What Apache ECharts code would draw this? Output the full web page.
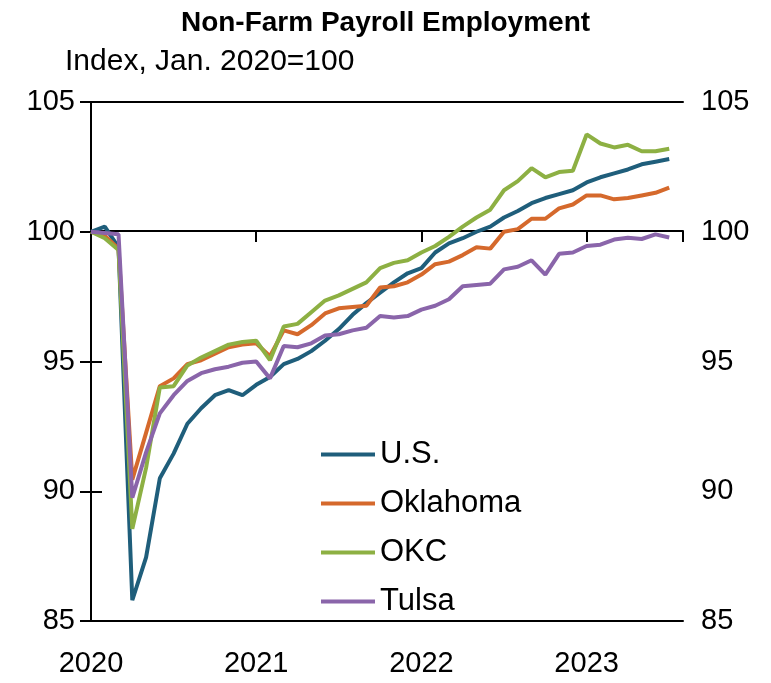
<!DOCTYPE html>
<html>
<head>
<meta charset="utf-8">
<title>Non-Farm Payroll Employment</title>
<script src="https://cdn.jsdelivr.net/npm/echarts@6/dist/echarts.min.js"></script>
<style>
  html, body { margin: 0; padding: 0; background: #fff; }
  #main { width: 771px; height: 683px; }
</style>
</head>
<body>
<div id="main"></div>
<script>
// monthly index, Jan 2020 = 100 (Jan 2020 .. Jul 2023)
var startYear = 2020;
var yearTicks = [2020, 2021, 2022, 2023];
var seriesNames = ['U.S.', 'Oklahoma', 'OKC', 'Tulsa'];

var us = [100, 100.2, 99.4, 85.8, 87.45, 90.5, 91.45, 92.6, 93.2, 93.7, 93.9, 93.7,
  94.1, 94.4, 94.9, 95.1, 95.4, 95.8, 96.25, 96.8, 97.25, 97.65, 98.05, 98.4,
  98.6, 99.2, 99.55, 99.75, 100.0, 100.2, 100.55, 100.8, 101.1, 101.3, 101.45, 101.6,
  101.9, 102.1, 102.25, 102.4, 102.6, 102.7, 102.8];
var oklahoma = [100, 99.85, 99.35, 90.45, 92.25, 94.05, 94.35, 94.9, 95.05, 95.3, 95.55, 95.65,
  95.7, 95.2, 96.2, 96.05, 96.4, 96.85, 97.05, 97.1, 97.15, 97.85, 97.9, 98.05,
  98.35, 98.75, 98.85, 99.1, 99.4, 99.35, 100.0, 100.1, 100.5, 100.5, 100.9, 101.05,
  101.4, 101.4, 101.25, 101.3, 101.4, 101.5, 101.7];
var okc = [100, 99.75, 99.3, 88.55, 90.9, 94.0, 94.05, 94.85, 95.15, 95.4, 95.65, 95.75,
  95.8, 95.05, 96.35, 96.45, 96.9, 97.35, 97.55, 97.8, 98.05, 98.6, 98.8, 98.9,
  99.2, 99.45, 99.8, 100.2, 100.55, 100.85, 101.6, 101.95, 102.45, 102.1, 102.3, 102.35,
  103.75, 103.4, 103.25, 103.35, 103.1, 103.1, 103.2];
var tulsa = [100, 99.95, 99.9, 89.75, 91.5, 93.0, 93.7, 94.25, 94.55, 94.7, 94.8, 94.95,
  95.0, 94.35, 95.6, 95.55, 95.7, 96.0, 96.05, 96.2, 96.3, 96.75, 96.7, 96.75,
  97.0, 97.15, 97.4, 97.9, 97.95, 98.0, 98.55, 98.65, 98.9, 98.35, 99.15, 99.2,
  99.45, 99.5, 99.7, 99.77, 99.72, 99.9, 99.78];

var colors = ['#1f5e7b', '#d5692c', '#8db043', '#8a65aa'];
var font = '"Liberation Sans Narrow", "Liberation Sans", Arial, sans-serif';

function toPoints(arr) {
  var pts = [];
  for (var i = 0; i < arr.length; i++) {
    pts.push([i, arr[i]]);
  }
  return pts;
}

var myChart = echarts.init(document.getElementById('main'));

var allData = [us, oklahoma, okc, tulsa];
var series = [];
for (var s = 0; s < allData.length; s++) {
  series.push({
    name: seriesNames[s],
    type: 'line',
    xAxisIndex: 0,
    yAxisIndex: 0,
    data: toPoints(allData[s]),
    showSymbol: false,
    symbol: 'none',
    lineStyle: { width: 4, color: colors[s] },
    itemStyle: { color: colors[s] }
  });
}

var blackLine = { show: true, lineStyle: { color: '#000', width: 2 } };
var blackTick = { show: true, length: 11, lineStyle: { color: '#000', width: 2 } };

var option = {
  animation: false,
  backgroundColor: '#fff',
  title: [{
    text: 'Non-Farm Payroll Employment',
    left: 'center',
    top: 4,
    textStyle: { fontFamily: font, fontSize: 28, fontWeight: 'bold', color: '#000' }
  }, {
    text: 'Index, Jan. 2020=100',
    left: 60,
    top: 42,
    textStyle: { fontFamily: font, fontSize: 30, fontWeight: 'normal', color: '#000' }
  }],
  legend: {
    orient: 'vertical',
    left: 316,
    top: 434,
    icon: 'rect',
    itemWidth: 54,
    itemHeight: 4,
    itemGap: 18,
    data: seriesNames,
    textStyle: { fontFamily: font, fontSize: 31, color: '#000', lineHeight: 31 }
  },
  grid: [
    { left: 91, right: 88, top: 102, bottom: 62 },
    // upper band, its bottom edge sits on the 100 line
    { left: 91, right: 88, top: 102, height: 129 }
  ],
  xAxis: [{
    type: 'value',
    gridIndex: 0,
    min: 0,
    max: 43,
    interval: 12,
    axisLine: blackLine,
    axisTick: { show: false },
    splitLine: { show: false },
    axisLabel: {
      fontFamily: font, fontSize: 29, color: '#000', margin: 28,
      showMaxLabel: false,
      formatter: function (v) {
        if (v % 12 !== 0) return '';
        return String(startYear + v / 12);
      }
    }
  }, {
    type: 'value',
    gridIndex: 1,
    min: 0,
    max: 43,
    interval: 12,
    axisLine: blackLine,
    axisTick: blackTick,
    axisLabel: { show: false },
    splitLine: { show: false }
  }, {
    type: 'value',
    gridIndex: 0,
    position: 'top',
    min: 0,
    max: 43,
    axisLine: blackLine,
    axisTick: { show: false },
    axisLabel: { show: false },
    splitLine: { show: false }
  }],
  yAxis: [{
    type: 'value',
    gridIndex: 0,
    min: 85,
    max: 105,
    interval: 5,
    position: 'left',
    axisLine: blackLine,
    axisTick: blackTick,
    splitLine: { show: false },
    axisLabel: { fontFamily: font, fontSize: 29, color: '#000', margin: 16 }
  }, {
    type: 'value',
    gridIndex: 0,
    min: 85,
    max: 105,
    interval: 5,
    position: 'right',
    axisLine: blackLine,
    axisTick: blackTick,
    splitLine: { show: false },
    axisLabel: { fontFamily: font, fontSize: 29, color: '#000', margin: 18 }
  }, {
    type: 'value',
    gridIndex: 1,
    show: false
  }],
  series: series
};

myChart.setOption(option);
</script>
</body>
</html>
